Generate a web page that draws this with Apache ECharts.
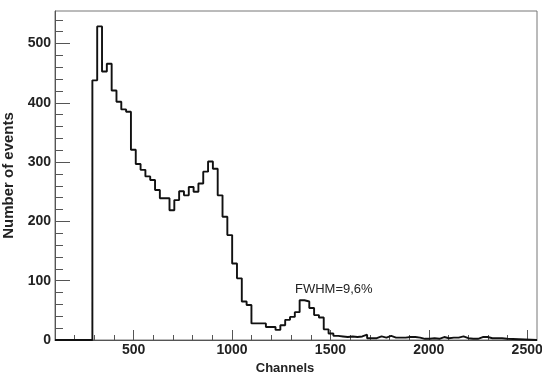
<!DOCTYPE html>
<html>
<head>
<meta charset="utf-8">
<script src="https://cdn.jsdelivr.net/npm/echarts@6/dist/echarts.min.js"></script>
<style>
  html, body { margin: 0; padding: 0; background: #fff; }
  #chart { width: 542px; height: 372px; }
</style>
</head>
<body>
<div id="chart"></div>
<script>
// Energy spectrum histogram: counts per channel bin
const binStart = 290;
const binWidth = 24.5;
const counts = [
  438, 529, 453, 466, 421, 402, 389, 385, 321, 297,
  287, 276, 270, 253, 239, 239, 219, 236, 251, 244,
  258, 250, 264, 284, 301, 289, 244, 208, 177, 129,
  104, 65, 59, 28, 28, 28, 22, 22, 17, 25,
  34, 39, 47, 67, 65, 54, 42, 38, 18, 11,
  7, 6, 5, 6, 5, 6, 9, 3, 3, 6,
  4, 7, 4, 4, 4, 5, 5, 4, 2, 2,
  3, 2, 5, 3, 4, 4, 6, 3, 2, 2,
  5, 5, 3, 3, 3, 2
];

const xRange = [100, 2550];
const yRange = [0, 555];
const xMajorTicks = [500, 1000, 1500, 2000, 2500];
const yMajorTicks = [0, 100, 200, 300, 400, 500];
const peakNote = 'FWHM=9,6%';

// minor tick positions: every 100 channels on x, every 20 events on y
const xMinorTicks = [];
for (let v = 200; v <= 2500; v += 100) if (v % 500 !== 0) xMinorTicks.push(v);
const yMinorTicks = [];
for (let v = 20; v <= 540; v += 20) if (v % 100 !== 0) yMinorTicks.push(v);

// histogram outline as step points: left edge of each bin with its count
const steps = [[xRange[0], 0]];
counts.forEach((c, i) => steps.push([binStart + i * binWidth, c]));
steps.push([binStart + counts.length * binWidth, 0]);
steps.push([xRange[1], 0]);

const axisGray = '#555';
const labelFont = 'Liberation Sans, Arial, sans-serif';
const plain = v => String(v);

const chart = echarts.init(document.getElementById('chart'), null, { renderer: 'canvas' });
chart.setOption({
  animation: false,
  backgroundColor: '#fff',
  grid: {
    left: 55, top: 11, right: 5, bottom: 32,
    containLabel: false, outerBoundsMode: 'none',
    show: true, borderColor: '#777', borderWidth: 1, backgroundColor: 'transparent'
  },
  xAxis: [
    {
      type: 'value', min: xRange[0], max: xRange[1], position: 'bottom',
      axisLine: { show: true, lineStyle: { color: axisGray, width: 1 } },
      axisTick: { show: true, inside: true, length: 5, customValues: xMinorTicks,
                  lineStyle: { color: axisGray, width: 1 } },
      axisLabel: { customValues: xMajorTicks, formatter: plain, margin: 3, color: '#222',
                   fontFamily: labelFont, fontWeight: 'bold', fontSize: 14 },
      splitLine: { show: false },
      name: 'Channels', nameLocation: 'middle', nameGap: 18,
      nameTextStyle: { color: '#222', fontFamily: labelFont, fontWeight: 'bold',
                       fontSize: 13, padding: [0, 22, 0, 0] }
    },
    {
      type: 'value', min: xRange[0], max: xRange[1], position: 'bottom',
      axisLine: { show: false },
      axisTick: { show: true, inside: true, length: 10, customValues: xMajorTicks,
                  lineStyle: { color: axisGray, width: 1 } },
      axisLabel: { show: false },
      splitLine: { show: false }
    }
  ],
  yAxis: [
    {
      type: 'value', min: yRange[0], max: yRange[1], position: 'left',
      axisLine: { show: true, lineStyle: { color: axisGray, width: 1 } },
      axisTick: { show: true, inside: true, length: 15, customValues: yMajorTicks,
                  lineStyle: { color: axisGray, width: 1 } },
      axisLabel: { customValues: yMajorTicks, formatter: plain, margin: 4, color: '#222',
                   fontFamily: labelFont, fontWeight: 'bold', fontSize: 14 },
      splitLine: { show: false },
      name: 'Number of events', nameLocation: 'middle', nameGap: 39, nameRotate: 90,
      nameTextStyle: { color: '#222', fontFamily: labelFont, fontWeight: 'bold', fontSize: 15 }
    },
    {
      type: 'value', min: yRange[0], max: yRange[1], position: 'left',
      axisLine: { show: false },
      axisTick: { show: true, inside: true, length: 8, customValues: yMinorTicks,
                  lineStyle: { color: axisGray, width: 1 } },
      axisLabel: { show: false },
      splitLine: { show: false }
    }
  ],
  graphic: [
    {
      type: 'text', left: 295, top: 283,
      style: { text: peakNote, fill: '#222', font: '13px "Liberation Sans", Arial, sans-serif' }
    }
  ],
  series: [
    {
      type: 'line', xAxisIndex: 0, yAxisIndex: 0,
      step: 'end', data: steps, symbol: 'none', silent: true,
      lineStyle: { color: '#111', width: 1.9 }
    }
  ]
});
</script>
</body>
</html>
